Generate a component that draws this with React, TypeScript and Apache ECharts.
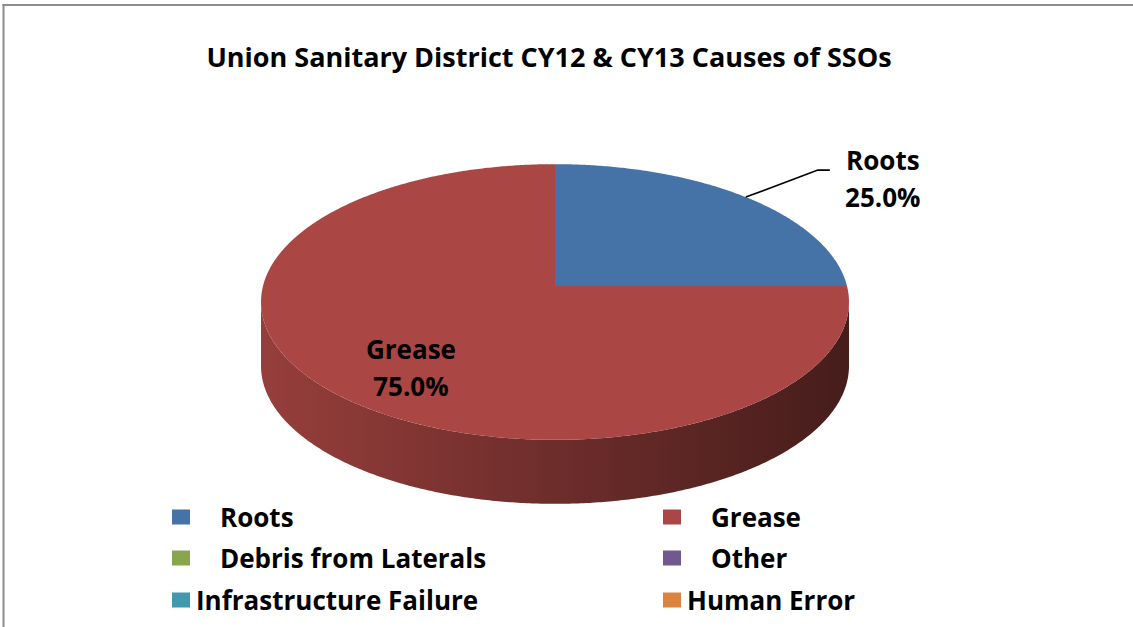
import React, { useEffect, useRef } from 'react';
import * as echarts from 'echarts';

const TITLE = 'Union Sanitary District CY12 & CY13 Causes of SSOs';
const CATEGORIES = ['Roots', 'Grease', 'Debris from Laterals', 'Other', 'Infrastructure Failure', 'Human Error'];
const VALUES = [25, 75, 0, 0, 0, 0];
const COLORS = ['#4572A7', '#AA4643', '#89A54E', '#71588F', '#4198AF', '#DB843D'];
// legend items that carry extra space between marker and text (as in the original)
const LEGEND_PADDED = [true, true, true, true, false, false];

const FONT = '"Open Sans", Lato, sans-serif';

// 3D pie geometry (perspective projection of a disc)
const CX = 555;
const CY = 286;
const RX = 292;
const RY = 136;
const K = 0.116;
const DEPTH = 64;

function proj(theta: number, r = 1): [number, number] {
  const c = Math.cos(theta) * r;
  const s = Math.sin(theta) * r;
  const w = 1 + K * s;
  return [CX + (RX * c) / w, CY - (RY * s) / w];
}

function shade(hex: string, f: number): string {
  const n = parseInt(hex.slice(1), 16);
  const r = Math.round(((n >> 16) & 255) * f);
  const g = Math.round(((n >> 8) & 255) * f);
  const b = Math.round((n & 255) * f);
  return `rgb(${r},${g},${b})`;
}

const TOTAL = VALUES.reduce((a, b) => a + b, 0);
const CUM: number[] = [];
VALUES.reduce((acc, v, i) => {
  CUM[i] = acc;
  return acc + v;
}, 0);

const DEG = Math.PI / 180;

function arcPoints(from: number, to: number, dy = 0): number[][] {
  const n = Math.max(2, Math.ceil(Math.abs(to - from) / (0.5 * DEG)) + 1);
  const pts: number[][] = [];
  for (let j = 0; j < n; j++) {
    const t = from + ((to - from) * j) / (n - 1);
    const p = proj(t);
    pts.push([p[0], p[1] + dy]);
  }
  return pts;
}

function renderItem(params: any, api: any) {
  const i = params.dataIndex;
  const v = api.value(0);
  if (!v) return null;
  const share = v / TOTAL;
  const t0 = (90 - (360 * CUM[i]) / TOTAL) * DEG;
  const t1 = (90 - (360 * (CUM[i] + v)) / TOTAL) * DEG;
  const color = COLORS[i];
  const children: any[] = [];

  // visible front wall
  const alpha = Math.asin(K);
  const visLo = -Math.PI + alpha;
  const visHi = -alpha;
  for (const sh of [-4 * Math.PI, -2 * Math.PI, 0, 2 * Math.PI]) {
    const lo = Math.max(t1, visLo + sh);
    const hi = Math.min(t0, visHi + sh);
    if (lo < hi) {
      const top = arcPoints(lo, hi, 0);
      const bottom = arcPoints(hi, lo, DEPTH);
      children.push({
        type: 'polygon',
        z2: 1,
        shape: { points: top.concat(bottom) },
        style: {
          fill: {
            type: 'linear',
            x: CX - RX,
            y: 0,
            x2: CX + RX,
            y2: 0,
            global: true,
            colorStops: [
              { offset: 0, color: shade(color, 0.88) },
              { offset: 0.5, color: shade(color, 0.64) },
              { offset: 1, color: shade(color, 0.41) },
            ],
          },
        },
      });
    }
  }

  // top face
  children.push({
    type: 'polygon',
    z2: 2,
    shape: { points: [[CX, CY]].concat(arcPoints(t0, t1, 0)) },
    style: { fill: color },
  });

  // data label
  const pct = (share * 100).toFixed(1) + '%';
  const mid = (t0 + t1) / 2;
  const textStyle = {
    fill: '#000',
    fontSize: 26,
    fontWeight: 'bold',
    fontFamily: FONT,
    align: 'center',
    verticalAlign: 'middle',
    textAlign: 'center',
    textVerticalAlign: 'middle',
    lineHeight: 37,
  };
  if (share >= 0.5) {
    const p = proj(mid, 0.66);
    children.push({
      type: 'text',
      z2: 5,
      x: p[0],
      y: p[1] + 14,
      style: { ...textStyle, text: `${CATEGORIES[i]}\n${pct}` },
    });
  } else {
    const p = proj(mid, 1);
    const elbow = [p[0] + 72, p[1] - 27];
    const end = [elbow[0] + 12, elbow[1]];
    children.push({
      type: 'polyline',
      z2: 5,
      shape: { points: [p, elbow, end] },
      style: { stroke: '#000', lineWidth: 1.6, fill: null },
    });
    children.push({
      type: 'text',
      z2: 5,
      x: end[0] + 53,
      y: end[1] + 8,
      style: { ...textStyle, text: `${CATEGORIES[i]}\n${pct}` },
    });
  }

  return { type: 'group', children };
}

export default function App() {
  const ref = useRef<HTMLDivElement>(null);

  useEffect(() => {
    document.documentElement.style.overflow = 'hidden';
    document.body.style.overflow = 'hidden';
    document.body.style.margin = '0';
    if (!ref.current) return;
    const chart = echarts.init(ref.current, null, { renderer: 'svg' });

    const colLeft = [172, 663];
    const rowCenter = [517, 558, 600];
    const legends = CATEGORIES.map((name, i) => {
      const row = Math.floor(i / 2);
      const col = i % 2;
      return {
        data: [name],
        left: colLeft[col],
        top: rowCenter[row] - 15,
        padding: 0,
        itemWidth: 18,
        itemHeight: 15,
        icon: 'rect',
        selectedMode: false,
        textStyle: {
          fontFamily: FONT,
          fontSize: 26,
          fontWeight: 'bold',
          color: '#000',
          lineHeight: 30,
          padding: LEGEND_PADDED[i] ? [0, 0, 0, 25] : [0, 0, 0, 1],
        },
      };
    });

    chart.setOption({
      animation: false,
      backgroundColor: '#ffffff',
      title: {
        text: TITLE,
        left: 549,
        top: 43,
        textAlign: 'center',
        padding: 0,
        textStyle: {
          fontFamily: FONT,
          fontSize: 27,
          fontWeight: 'bold',
          color: '#000',
        },
      },
      legend: legends,
      graphic: [
        {
          type: 'rect',
          silent: true,
          shape: { x: 2.5, y: 4, width: 2, height: 640 },
          style: { fill: '#8c8c8c' },
        },
        {
          type: 'rect',
          silent: true,
          shape: { x: 2.5, y: 4, width: 1140, height: 2 },
          style: { fill: '#8c8c8c' },
        },
        {
          // white strip guarantees nothing stands at the right margin
          type: 'rect',
          silent: true,
          z: -1,
          shape: { x: 1100, y: 6, width: 40, height: 630 },
          style: { fill: '#ffffff' },
        },
      ],
      series: [
        {
          type: 'pie',
          radius: [0, 1],
          center: [-100, -100],
          silent: true,
          label: { show: false },
          labelLine: { show: false },
          data: CATEGORIES.map((name, i) => ({
            name,
            value: VALUES[i],
            itemStyle: { color: COLORS[i] },
          })),
        },
        {
          type: 'custom',
          coordinateSystem: 'none',
          silent: true,
          renderItem,
          data: CATEGORIES.map((name, i) => ({ name, value: VALUES[i] })),
        },
      ],
    });

    return () => chart.dispose();
  }, []);

  return (
    <div
      ref={ref}
      style={{ position: 'fixed', left: 0, top: 0, width: 1133, height: 627 }}
    />
  );
}
